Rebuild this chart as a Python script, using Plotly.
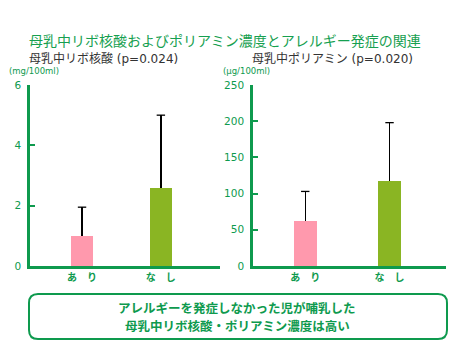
import plotly.graph_objects as go

W, H = 470, 364

# ---- data ----
categories = ["あ　り", "な　し"]
rna_values = [1.0, 2.6]
rna_errors = [0.95, 2.4]
polyamine_values = [62, 117]
polyamine_errors = [41, 81]
rna_ticks = [0, 2, 4, 6]
polyamine_ticks = [0, 50, 100, 150, 200, 250]
bar_colors = ["#ff99ad", "#8ab523"]

GREEN = "#0e9a4e"
FONT = "Noto Sans CJK JP"
MIXED = "DejaVu Sans, Noto Sans CJK JP"

def px_x(x):
    return x / W

def px_y(y):
    return (H - y) / H

fig = go.Figure()

def add_panel(values, errors, width, xa, ya):
    fig.add_trace(go.Bar(
        x=[0, 1], y=values, width=width, marker=dict(color=bar_colors, line=dict(width=0)),
        error_y=dict(type="data", symmetric=False, array=errors, arrayminus=[0, 0],
                     color="#000000", thickness=1.3, width=0),
        xaxis=xa, yaxis=ya, showlegend=False, hoverinfo="skip"))
    # top caps of the error bars
    fig.add_trace(go.Scatter(
        x=[0, 1], y=[v + e for v, e in zip(values, errors)], mode="markers",
        marker=dict(symbol="line-ew", size=6, line=dict(color="#000000", width=1.3)),
        xaxis=xa, yaxis=ya, showlegend=False, hoverinfo="skip", cliponaxis=False))

add_panel(rna_values, rna_errors, 0.28, "x", "y")
add_panel(polyamine_values, polyamine_errors, 0.27, "x2", "y2")

ydom = [px_y(266), px_y(85)]

axis_common = dict(showline=True, linecolor=GREEN, linewidth=2.5, showgrid=False, zeroline=False,
                   automargin=False, fixedrange=True)
ytick_font = dict(family=MIXED, size=10.5, color=GREEN)
xtick_font = dict(family=FONT, size=10, color=GREEN, weight="bold")

fig.update_layout(
    template="none",
    width=W, height=H, margin=dict(l=0, r=0, t=0, b=0, autoexpand=False),
    paper_bgcolor="white", plot_bgcolor="white", bargap=0,
    font=dict(family=FONT),
    xaxis=dict(domain=[px_x(30), px_x(220)], range=[-0.66, 1.75], tickmode="array",
               tickvals=[0, 1], ticktext=categories, ticks="", anchor="y",
               tickfont=xtick_font, **axis_common),
    yaxis=dict(domain=ydom, range=[0, 6.0], tickmode="array", tickvals=rna_ticks,
               ticks="inside", ticklen=5, tickwidth=2, tickcolor=GREEN, anchor="x",
               ticklabelstandoff=4, tickfont=ytick_font, **axis_common),
    xaxis2=dict(domain=[px_x(253), px_x(446)], range=[-0.62, 1.67], tickmode="array",
                tickvals=[0, 1], ticktext=categories, ticks="", anchor="y2",
                tickfont=xtick_font, **axis_common),
    yaxis2=dict(domain=ydom, range=[0, 250], tickmode="array", tickvals=polyamine_ticks,
                ticks="inside", ticklen=5, tickwidth=2, tickcolor=GREEN, anchor="x2",
                ticklabelstandoff=4, tickfont=ytick_font, **axis_common),
)

def ann(text, x, y, size, color, xanchor="left", bold=False, family=FONT):
    fig.add_annotation(text=text, x=px_x(x), y=px_y(y), xref="paper", yref="paper",
                       xanchor=xanchor, yanchor="middle", showarrow=False,
                       font=dict(family=family, size=size, color=color,
                                 weight="bold" if bold else "normal"))

ann("母乳中リボ核酸およびポリアミン濃度とアレルギー発症の関連", 27, 40, 14, "#16a050")
ann("母乳中リボ核酸 (p=0.024)", 27, 59, 12, "#333333", family=MIXED)
ann("母乳中ポリアミン (p=0.020)", 250, 59, 12, "#333333", family=MIXED)
ann("(mg/100ml)", 7, 71, 8.5, GREEN, family=MIXED)
ann("(μg/100ml)", 221, 71, 8.5, GREEN, family=MIXED)
ann("アレルギーを発症しなかった児が哺乳した", 237, 307, 12.5, GREEN, xanchor="center", bold=True)
ann("母乳中リボ核酸・ポリアミン濃度は高い", 237, 325, 12.5, GREEN, xanchor="center", bold=True)

# rounded box
x0, x1, y0, y1, r = 29, 447, 294, 339, 9
pts = [
    f"M {px_x(x0 + r)},{px_y(y0)}",
    f"L {px_x(x1 - r)},{px_y(y0)}",
    f"Q {px_x(x1)},{px_y(y0)} {px_x(x1)},{px_y(y0 + r)}",
    f"L {px_x(x1)},{px_y(y1 - r)}",
    f"Q {px_x(x1)},{px_y(y1)} {px_x(x1 - r)},{px_y(y1)}",
    f"L {px_x(x0 + r)},{px_y(y1)}",
    f"Q {px_x(x0)},{px_y(y1)} {px_x(x0)},{px_y(y1 - r)}",
    f"L {px_x(x0)},{px_y(y0 + r)}",
    f"Q {px_x(x0)},{px_y(y0)} {px_x(x0 + r)},{px_y(y0)}",
    "Z",
]
fig.add_shape(type="path", path=" ".join(pts), xref="paper", yref="paper",
              line=dict(color=GREEN, width=2))

fig.write_html("out.html", config={"displayModeBar": False},
               post_script="document.body.style.margin='0';document.body.style.overflow='hidden';")
